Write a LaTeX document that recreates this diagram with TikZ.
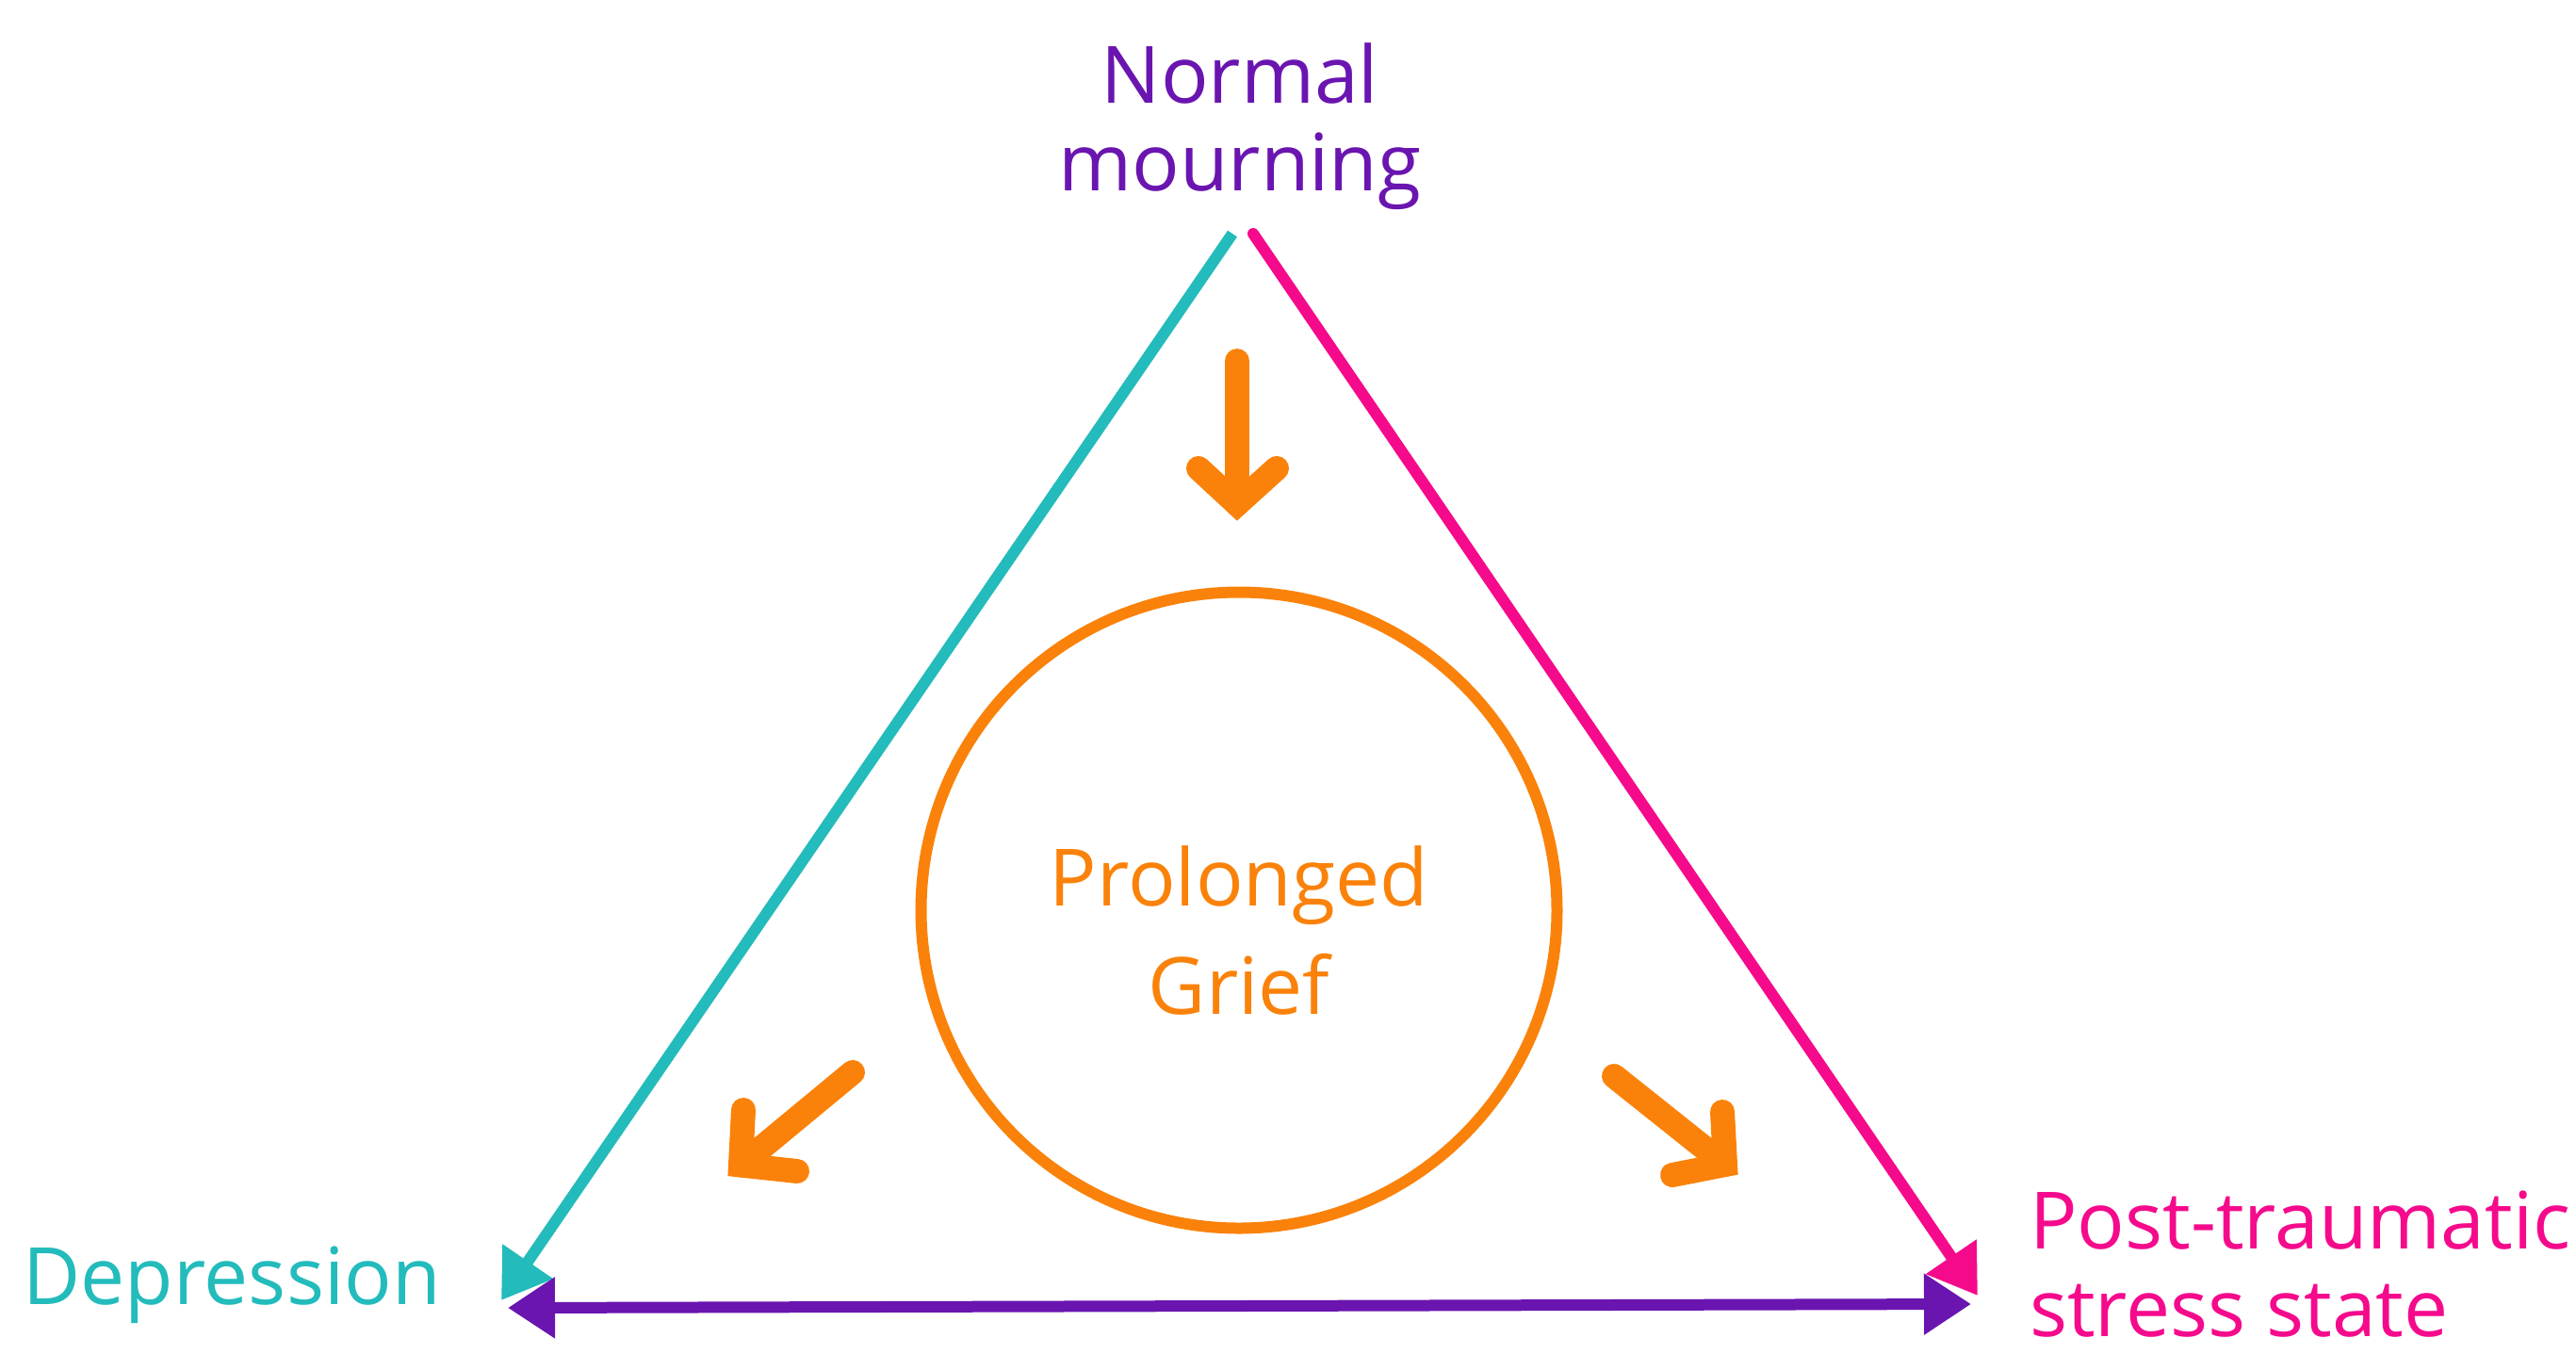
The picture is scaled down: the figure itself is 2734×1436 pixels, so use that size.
\documentclass[tikz,border=0pt]{standalone}
\usepackage{fontspec}
\IfFontExistsTF{Noto Sans SemiBold}{\setmainfont{Noto Sans SemiBold}}{%
  \IfFontExistsTF{Noto Sans Medium}{\setmainfont{Noto Sans Medium}}{%
    \setmainfont{Open Sans}}}
\usetikzlibrary{arrows.meta}
\definecolor{mournpurple}{HTML}{6A15B0}
\definecolor{depteal}{HTML}{23BBBB}
\definecolor{ptsdpink}{HTML}{F50A8C}
\definecolor{griefor}{HTML}{FA820A}
\tikzset{
  cornerlabel/.style={
    inner sep=0pt, outer sep=0pt,
    font=\fontsize{84}{93}\selectfont
  },
  sideline/.style={line width=12pt, -{Triangle[length=50pt,width=62pt]}},
  griefring/.style={
    circle, draw=griefor, line width=12pt,
    minimum size=675pt, inner sep=0pt
  },
  griefarrow/.style={
    draw=griefor, line width=26pt,
    line cap=round, line join=miter
  },
}

\begin{document}
\begin{tikzpicture}[x=1pt,y=-1pt]
  \useasboundingbox (0,0) rectangle (2734,1436);
  % corner labels
  \node[cornerlabel, text=mournpurple, align=center] (mourn) at (1316,134.5) {Normal\\mourning};
  \node[cornerlabel, text=depteal, anchor=base] (dep) at (246,1384) {Depression};
  \node[cornerlabel, text=ptsdpink, align=left, anchor=west] (ptsd) at (2154,1342) {Post-traumatic\\stress state};
  % the ring in the middle
  \node[griefring] (grief) at (1315,966) {};
  \node[cornerlabel, text=griefor, align=center,
        font=\fontsize{84}{115}\selectfont] (griefText) at (grief.center) [yshift=-21pt] {Prolonged\\Grief};
  % ends of the triangle
  \coordinate (mournL) at (1308,248);
  \coordinate (mournR) at (1330,248);
  \coordinate (depTip) at (532,1380);
  \coordinate (ptsdTip) at (2099,1375);
  \coordinate (depEnd) at (539,1388);
  \coordinate (ptsdEnd) at (2092,1384);
  \draw[sideline, depteal] (mournL) -- (depTip);
  \draw[sideline, ptsdpink, line cap=round] (mournR) -- (ptsdTip);
  \draw[sideline, mournpurple, {Triangle[length=50pt,width=62pt]}-{Triangle[length=50pt,width=62pt]}] (depEnd) -- (ptsdEnd);
  % orange arrows round the ring
  \foreach \s/\t/\a/\b [count=\i] in {1313/383/1313/535, 905/1138/786/1236.5, 1713/1142/1831/1236}{
    \coordinate (from\i) at (\s,\t);
    \coordinate (tip\i) at (\a,\b);
  }
  \coordinate (barbA1) at (1272,497);  \coordinate (barbB1) at (1355,497);
  \coordinate (barbA2) at (789,1178);  \coordinate (barbB2) at (846,1243);
  \coordinate (barbA3) at (1828,1180); \coordinate (barbB3) at (1775,1247);
  \foreach \i in {1,2,3}{
    \draw[griefarrow] (from\i) -- (tip\i);
    \draw[griefarrow] (barbA\i) -- (tip\i) -- (barbB\i);
  }
\end{tikzpicture}
\end{document}
